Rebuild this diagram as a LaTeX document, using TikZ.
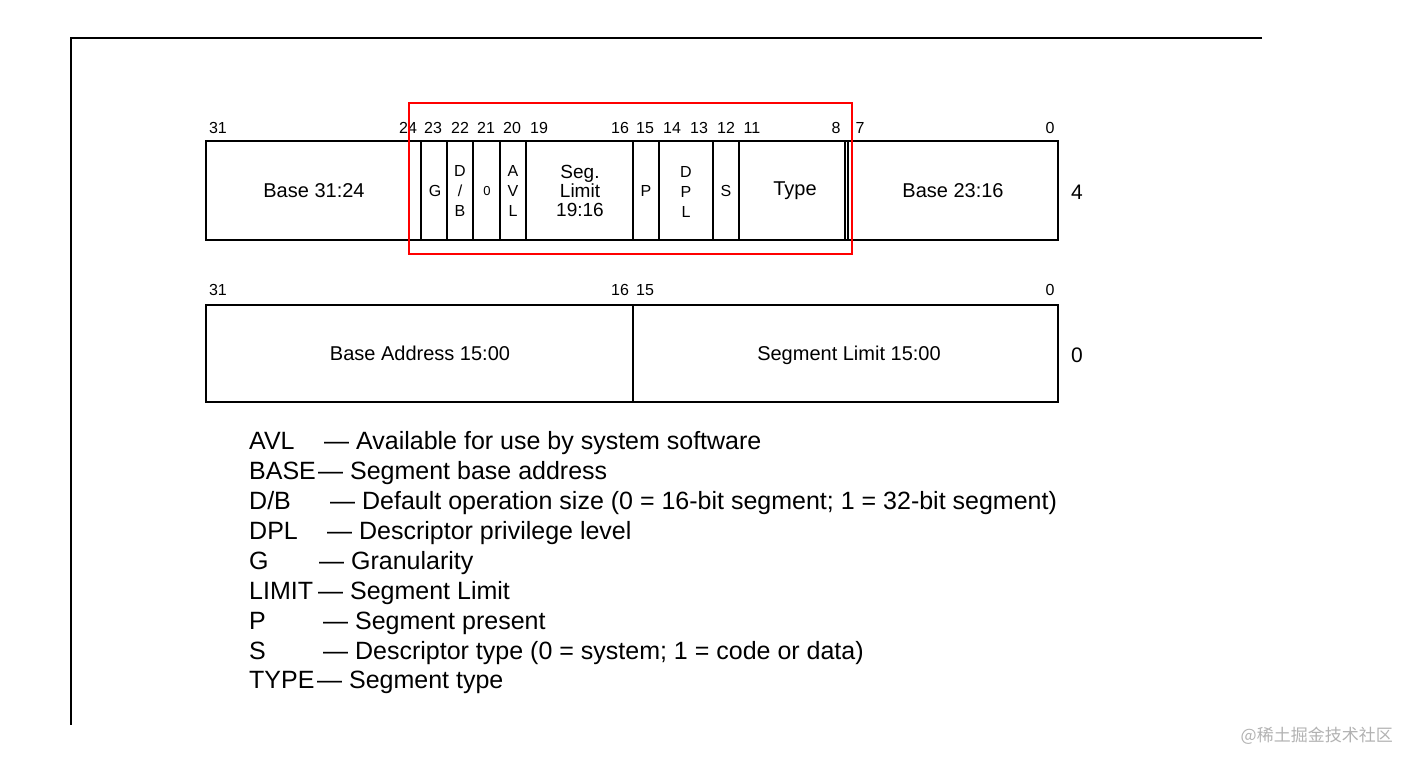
\documentclass[tikz,border=0pt]{standalone}
\usepackage{fontspec}
\setmainfont{Liberation Sans}
\newfontfamily\cjk{Noto Sans CJK SC}
\begin{document}
\begin{tikzpicture}[x=1pt,y=-1pt,
  cell/.style={draw,line width=2pt},
  num/.style={font=\fontsize{16}{16}\selectfont,inner sep=0pt},
  lab/.style={font=\fontsize{20}{21}\selectfont,inner sep=0pt,align=center},
  sm/.style={font=\fontsize{16}{20}\selectfont,inner sep=0pt,align=center},
  leg/.style={font=\fontsize{25}{25}\selectfont,inner sep=0pt,anchor=base west}]
\useasboundingbox (0,0) rectangle (1414,767);
% frame
\draw[line width=2pt] (1262,38) -- (71,38) -- (71,725);
% top row
\draw[cell] (206,141) rectangle (1058,240);
\foreach \x in {421,447,473,500,526,633,659,713,739,845,848}
  \draw[line width=2pt] (\x,141) -- (\x,240);
\node[lab] (b1) at (314,191) {Base 31:24};
\node[sm] (g) at (435,191) {G};
\node[sm] (db) at (460,191) {D\\/\\B};
\node[sm] (z) at (487,191) {\fontsize{13}{13}\selectfont 0};
\node[sm] (avl) at (513,191) {A\\V\\L};
\node[lab,font=\fontsize{19}{19}\selectfont] (sl) at (580,191) {Seg.\\Limit\\19:16};
\node[sm] (p) at (646,191) {P};
\node[sm] (dpl) at (686,192) {D\\P\\L};
\node[sm] (s) at (726,191) {S};
\node[lab] (ty) at (795,191) {Type};
\node[lab] (b2) at (953,191) {Base 23:16};
\node[lab,font=\fontsize{21}{21}\selectfont] (four) at (1077,192) {4};
\foreach \x/\t in {218/31,408/24,433/23,460/22,486/21,512/20,539/19,620/16,645/15,672/14,699/13,726/12,752/11,836/8,860/7,1050/0}
  \node[num] at (\x,128) {\t};
\draw[red,line width=2.2pt] (409,103) rectangle (852,254);
% bottom row
\draw[cell] (206,305) rectangle (1058,402);
\draw[line width=2pt] (633,305) -- (633,402);
\node[lab] (ba) at (420,353) {Base Address 15:00};
\node[lab] (sg) at (849,355) {Segment Limit 15:00};
\node[lab,font=\fontsize{21}{21}\selectfont] (zero) at (1077,355) {0};
\foreach \x/\t in {218/31,620/16,645/15,1050/0}
  \node[num] at (\x,290) {\t};
% legend
\foreach \y/\a/\dx/\t in {440/AVL/324/Available for use by system software,
  470/BASE/318/Segment base address,
  500/D\slash B/330/Default operation size (0 = 16-bit segment; 1 = 32-bit segment),
  530/DPL/327/Descriptor privilege level,
  560/G/319/Granularity,
  590/LIMIT/318/Segment Limit,
  620/P/323/Segment present,
  650/S/323/Descriptor type (0 = system; 1 = code or data),
  679/TYPE/317/Segment type}{
  \node[leg] at (249,\y+9) {\a};
  \node[leg] at (\dx,\y+9) {— \t};
}
\node[font=\cjk\fontsize{17}{17}\selectfont,text=gray!60,anchor=east,inner sep=0pt] (wm) at (1393,736) {@稀土掘金技术社区};
\end{tikzpicture}
\end{document}
